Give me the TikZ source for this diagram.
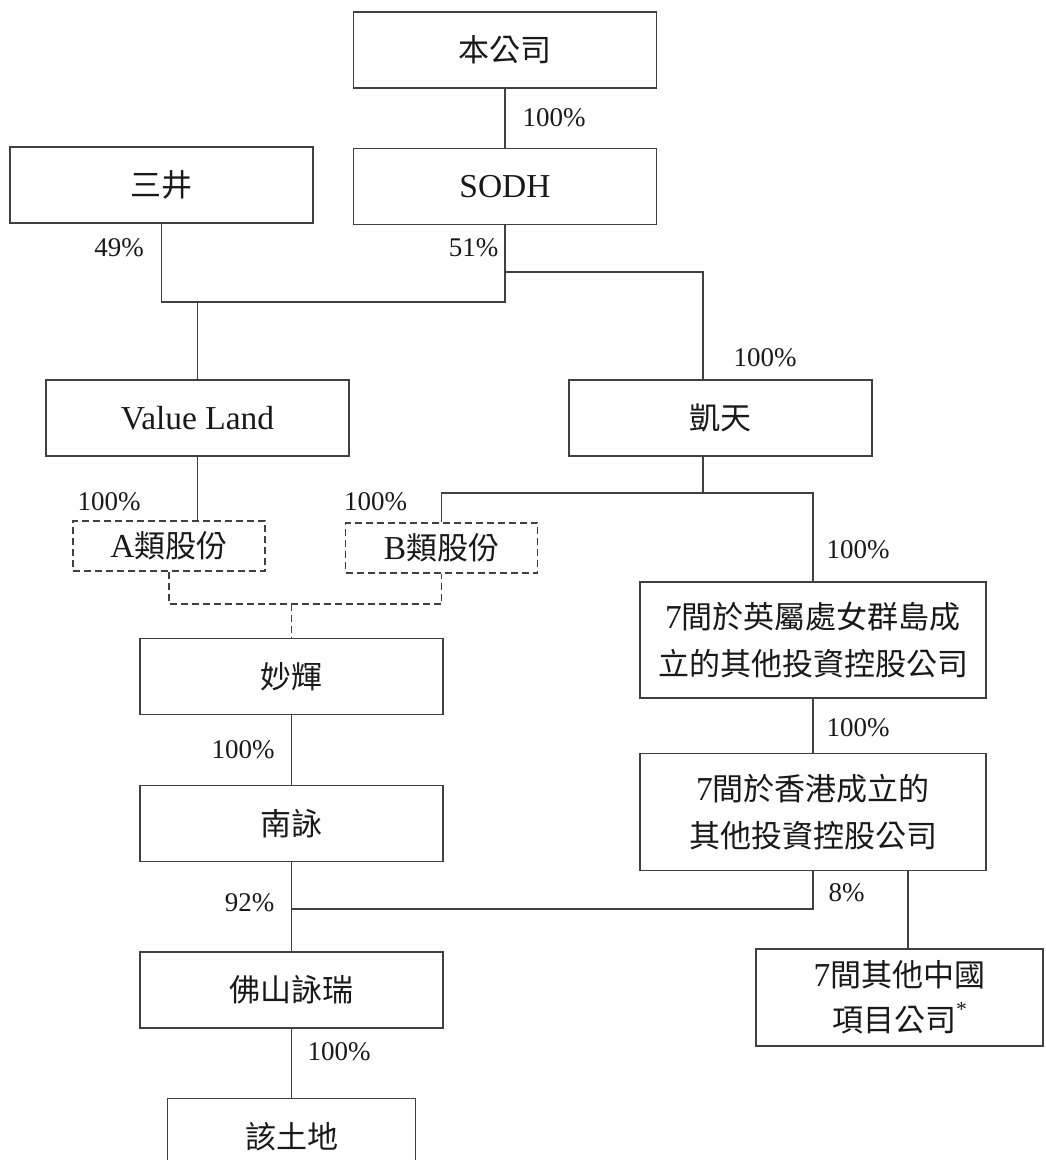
\documentclass[tikz,border=0pt]{standalone}
\usepackage{fontspec}
\setmainfont{Liberation Serif}[Scale=1.08]
\newfontfamily\cjk{Noto Sans CJK TC}
\usetikzlibrary{positioning}

\begin{document}
\begin{tikzpicture}[
  x=1pt, y=-1pt,
  company/.style={rectangle, draw=black!75, line width=1.3pt, minimum width=303pt,
    minimum height=76pt, inner sep=0pt, align=center, text=black!90,
    font=\fontsize{31}{47}\selectfont},
  share-box/.style={company, dash pattern=on 7pt off 4pt, minimum width=192pt, minimum height=50pt},
  link/.style={draw=black!75, line width=1.3pt},
  dash-link/.style={link, dash pattern=on 7pt off 4pt},
  pct/.style={inner sep=0pt, text=black!90, font=\fontsize{25}{25}\selectfont}
]
  \useasboundingbox (0,0) rectangle (1045,1160);
  \clip (0,0) rectangle (1045,1160);

  \node (top) at (505, 50) [company] {{\cjk 本公司}};
  \node (sodh) [below=59pt of top, company] {SODH};
  \node (mitsui) at (161.5, 185) [company] {{\cjk 三井}};
  \node (value-land) at (197.5, 418) [company] {Value Land};
  \node (kai-tian) at (720.5, 418) [company] {{\cjk 凱天}};
  \node (share-a) at (169, 546) [share-box] {A{\cjk 類股份}};
  \node (share-b) at (441.5, 548) [share-box] {B{\cjk 類股份}};
  \node (miao-hui) at (291.5, 676.5) [company] {{\cjk 妙輝}};
  \node (nan-yong) [below=70pt of miao-hui, company] {{\cjk 南詠}};
  \node (fo-shan) [below=89pt of nan-yong, company] {{\cjk 佛山詠瑞}};
  \node (land) [below=69pt of fo-shan, company, minimum width=248pt] {{\cjk 該土地}};

  \node (bvi) at (813, 640) [company, minimum width=346pt, minimum height=116pt]
    {7{\cjk 間於英屬處女群島成}\\{\cjk 立的其他投資控股公司}};
  \node (hk) [below=54pt of bvi, company, minimum width=346pt, minimum height=117pt]
    {7{\cjk 間於香港成立的}\\{\cjk 其他投資控股公司}};
  \node (prc) at (899.5, 997.5) [company, minimum width=287pt, minimum height=97pt,
    font=\fontsize{31}{45}\selectfont]
    {7{\cjk 間其他中國}\\{\cjk 項目公司}\raisebox{0.45em}{\fontsize{20}{20}\selectfont *}};

  % shareholding lines
  \coordinate (vl-join) at (197.5, 302);
  \coordinate (kt-branch) at (505, 272);
  \coordinate (kt-split) at (703, 493);
  \coordinate (ab-join) at (291.5, 604);
  \coordinate (fs-join) at (291.5, 909);

  \draw[link] (top) -- (sodh);
  \draw[link] (mitsui) |- (vl-join) -| (sodh);
  \draw[link] (vl-join) -- (value-land);
  \draw[link] (kt-branch) -| ([xshift=-17.5pt]kai-tian.north);
  \draw[link] ([xshift=-17.5pt]kai-tian.south) -- (kt-split);
  \draw[link] (share-b) |- (kt-split) -| (bvi);
  \draw[link] (value-land) -- (value-land.south |- share-a.north);
  \draw[dash-link] (share-a) |- (ab-join) -| (share-b);
  \draw[dash-link] (ab-join) -- (miao-hui);
  \draw[link] (miao-hui) -- (nan-yong);
  \draw[link] (nan-yong) -- (fo-shan);
  \draw[link] (fo-shan) -- (land);
  \draw[link] (bvi) -- (hk);
  \draw[link] (hk) |- (fs-join);
  \draw[link] ([xshift=8.5pt]prc.north) -- ([xshift=8.5pt]prc.north |- hk.south);

  % percentages
  \node (pct-sodh) at (554, 118) [pct] {100\%};
  \node (pct-mitsui) at (119, 248) [pct] {49\%};
  \node (pct-vl) at (473.5, 248) [pct] {51\%};
  \node (pct-kt) at (765, 358) [pct] {100\%};
  \node (pct-a) at (109, 502) [pct] {100\%};
  \node (pct-b) at (375.5, 502) [pct] {100\%};
  \node (pct-bvi) at (858, 550) [pct] {100\%};
  \node (pct-nan) at (243, 750) [pct] {100\%};
  \node (pct-hk) at (858, 728) [pct] {100\%};
  \node (pct-fs) at (249.5, 903) [pct] {92\%};
  \node (pct-prc) at (846.5, 893) [pct] {8\%};
  \node (pct-land) at (339, 1052) [pct] {100\%};

\end{tikzpicture}
\end{document}
